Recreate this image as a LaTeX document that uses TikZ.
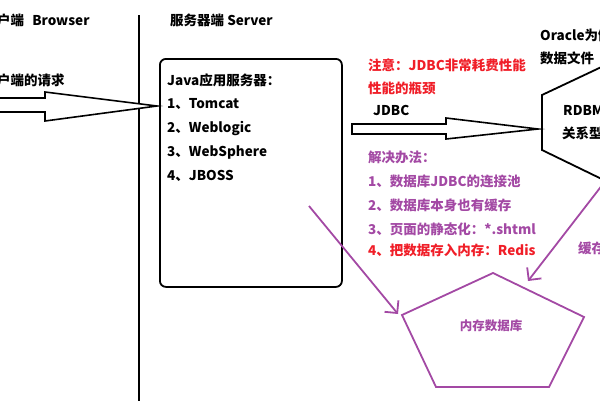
\documentclass[tikz,border=0pt]{standalone}
\usepackage{fontspec}
\setmainfont{Noto Sans CJK SC}
\usetikzlibrary{arrows.meta}
\definecolor{jvpurple}{RGB}{163,73,164}
\definecolor{jvred}{RGB}{240,30,40}

\begin{document}
\begin{tikzpicture}[x=1pt,y=-1pt,
    lbl/.style={anchor=west, inner sep=0pt, font=\fontsize{13.5}{15}\selectfont\bfseries},
    blockarrow/.style={draw, line width=1.6pt, fill=white, line join=miter},
    purplearrow/.style={jvpurple, line width=1.8pt, -{Straight Barb[length=9pt,width=18pt,line width=1.8pt]}}]
    \useasboundingbox (0,0) rectangle (600,400);
    % client side
    \node[lbl] (browser) at (-3,20) {户端\hspace{0.6em}Browser};
    \node[lbl] (request) at (-3,80) {户端的请求};
    \draw[line width=1.5pt] (139,15) -- (139,402);
    \path[blockarrow] (-5,98) -- (45,98) -- (45,92) -- (157,106) -- (45,121) -- (45,112) -- (-5,112) -- cycle;
    % server side
    \node[lbl] (server) at (170,20) {服务器端 Server};
    \node[draw, line width=1.8pt, rounded corners=6pt, minimum width=182pt, minimum height=228pt,
        anchor=north west, inner sep=0pt] (appsrv) at (159,58) {};
    \foreach \t [count=\i] in {Java应用服务器：, 1、Tomcat, 2、Weblogic, 3、WebSphere, 4、JBOSS}{
        \node[lbl] (srv\i) at (167,56+24*\i) {\t};
    };
    \node[lbl, text=jvred] (note1) at (368,65) {注意：JDBC非常耗费性能};
    \node[lbl, text=jvred] (note2) at (368,88) {性能的瓶颈};
    \node[lbl] (jdbc) at (373,110) {JDBC};
    \path[blockarrow] (352,124) -- (446,124) -- (446,118) -- (538,129) -- (446,139) -- (446,134) -- (352,134) -- cycle;
    \foreach \t [count=\i] in {解决办法：, 1、数据库JDBC的连接池, 2、数据库本身也有缓存, 3、页面的静态化：*.shtml}{
        \node[lbl, text=jvpurple] (fix\i) at (368,133+24*\i) {\t};
    };
    \node[lbl, text=jvred] (fix5) at (368,250) {4、把数据存入内存：Redis};
    % database
    \node[lbl] (oracle1) at (540,35) {Oracle为例};
    \node[lbl] (oracle2) at (540,58) {数据文件};
    \draw[line width=1.8pt, line join=miter] (612,62) -- (542,95) -- (542,150) -- (612,184);
    \node[lbl] (rdbms1) at (563,110) {RDBMS};
    \node[lbl] (rdbms2) at (562,133) {关系型数据库};
    \node[lbl, text=jvpurple] (cache) at (578,248) {缓存};
    % memory db
    \coordinate (pt) at (493,273);
    \coordinate (pr) at (584,317);
    \coordinate (pbr) at (549,387);
    \coordinate (pbl) at (436,387);
    \coordinate (pl) at (402,315);
    \draw[jvpurple, line width=1.8pt] (pt) -- (pr) -- (pbr) -- (pbl) -- (pl) -- cycle;
    \node[text=jvpurple, inner sep=0pt, font=\fontsize{12.5}{14}\selectfont\bfseries] (memdb) at (491,326) {内存数据库};
    \coordinate (from1) at (309,206);
    \coordinate (to1) at (398,314);
    \coordinate (from2) at (603,184);
    \coordinate (to2) at (528,281);
    \draw[purplearrow] (from1) -- (to1);
    \draw[purplearrow] (from2) -- (to2);
\end{tikzpicture}
\end{document}
